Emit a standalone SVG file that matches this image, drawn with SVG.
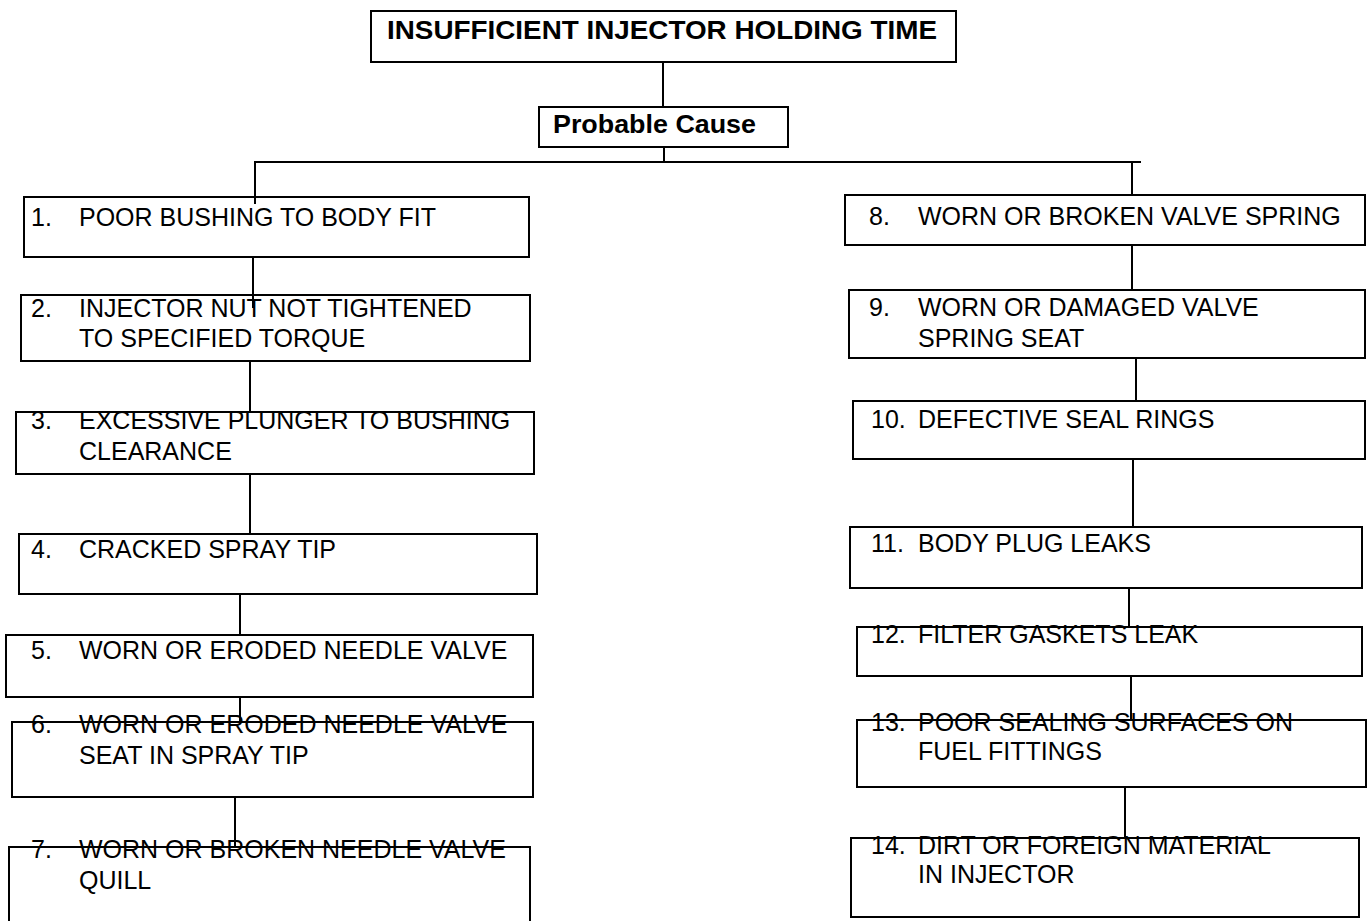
<svg xmlns="http://www.w3.org/2000/svg" width="1367" height="921" viewBox="0 0 1367 921">
  <style>
    .box { fill: none; stroke: #000; stroke-width: 2; }
    .wire { fill: none; stroke: #000; stroke-width: 2; }
    .t { font-family: "Liberation Sans", Arial, sans-serif; font-size: 25px; fill: #000; }
    .hb { font-family: "Liberation Sans", Arial, sans-serif; font-size: 26px; font-weight: bold; fill: #000; }
  </style>
  <rect x="0" y="0" width="1367" height="921" fill="#fff"/>

  <!-- header -->
  <g id="title">
    <rect class="box" x="371" y="11" width="585" height="51"/>
    <text class="hb" x="387" y="39" textLength="550" lengthAdjust="spacingAndGlyphs">INSUFFICIENT INJECTOR HOLDING TIME</text>
  </g>
  <g id="probable-cause">
    <rect class="box" x="539" y="107" width="249" height="40"/>
    <text class="hb" x="553" y="133" textLength="203" lengthAdjust="spacingAndGlyphs">Probable Cause</text>
  </g>

  <!-- left column -->
  <g id="cause-1">
    <rect class="box" x="24" y="197" width="505" height="60"/>
    <text class="t" x="31" y="226">1.</text>
    <text class="t" x="79" y="226">POOR BUSHING TO BODY FIT</text>
  </g>
  <g id="cause-2">
    <rect class="box" x="21" y="295" width="509" height="66"/>
    <text class="t" x="31" y="317">2.</text>
    <text class="t" x="79" y="317">INJECTOR NUT NOT TIGHTENED</text>
    <text class="t" x="79" y="347">TO SPECIFIED TORQUE</text>
  </g>
  <g id="cause-3">
    <rect class="box" x="16" y="412" width="518" height="62"/>
    <text class="t" x="31" y="429">3.</text>
    <text class="t" x="79" y="429">EXCESSIVE PLUNGER TO BUSHING</text>
    <text class="t" x="79" y="460">CLEARANCE</text>
  </g>
  <g id="cause-4">
    <rect class="box" x="19" y="534" width="518" height="60"/>
    <text class="t" x="31" y="558">4.</text>
    <text class="t" x="79" y="558">CRACKED SPRAY TIP</text>
  </g>
  <g id="cause-5">
    <rect class="box" x="6" y="635" width="527" height="62"/>
    <text class="t" x="31" y="659">5.</text>
    <text class="t" x="79" y="659">WORN OR ERODED NEEDLE VALVE</text>
  </g>
  <g id="cause-6">
    <rect class="box" x="12" y="722" width="521" height="75"/>
    <text class="t" x="31" y="733">6.</text>
    <text class="t" x="79" y="733">WORN OR ERODED NEEDLE VALVE</text>
    <text class="t" x="79" y="764">SEAT IN SPRAY TIP</text>
  </g>
  <g id="cause-7">
    <rect class="box" x="9" y="847" width="521" height="100"/>
    <text class="t" x="31" y="858">7.</text>
    <text class="t" x="79" y="858">WORN OR BROKEN NEEDLE VALVE</text>
    <text class="t" x="79" y="889">QUILL</text>
  </g>

  <!-- right column -->
  <g id="cause-8">
    <rect class="box" x="845" y="195" width="520" height="50"/>
    <text class="t" x="869" y="225">8.</text>
    <text class="t" x="918" y="225">WORN OR BROKEN VALVE SPRING</text>
  </g>
  <g id="cause-9">
    <rect class="box" x="849" y="290" width="516" height="68"/>
    <text class="t" x="869" y="316">9.</text>
    <text class="t" x="918" y="316">WORN OR DAMAGED VALVE</text>
    <text class="t" x="918" y="347">SPRING SEAT</text>
  </g>
  <g id="cause-10">
    <rect class="box" x="853" y="401" width="512" height="58"/>
    <text class="t" x="871" y="428">10.</text>
    <text class="t" x="918" y="428">DEFECTIVE SEAL RINGS</text>
  </g>
  <g id="cause-11">
    <rect class="box" x="850" y="527" width="512" height="61"/>
    <text class="t" x="871" y="552">11.</text>
    <text class="t" x="918" y="552">BODY PLUG LEAKS</text>
  </g>
  <g id="cause-12">
    <rect class="box" x="857" y="627" width="505" height="49"/>
    <text class="t" x="871" y="643">12.</text>
    <text class="t" x="918" y="643">FILTER GASKETS LEAK</text>
  </g>
  <g id="cause-13">
    <rect class="box" x="857" y="720" width="509" height="67"/>
    <text class="t" x="871" y="731">13.</text>
    <text class="t" x="918" y="731">POOR SEALING SURFACES ON</text>
    <text class="t" x="918" y="760">FUEL FITTINGS</text>
  </g>
  <g id="cause-14">
    <rect class="box" x="851" y="838" width="508" height="79"/>
    <text class="t" x="871" y="854">14.</text>
    <text class="t" x="918" y="854">DIRT OR FOREIGN MATERIAL</text>
    <text class="t" x="918" y="883">IN INJECTOR</text>
  </g>

  <!-- connectors -->
  <g id="connectors" class="wire">
    <line x1="663" y1="62" x2="663" y2="107"/>
    <line x1="664" y1="147" x2="664" y2="162"/>
    <line x1="254" y1="162" x2="1141" y2="162"/>
    <line x1="255" y1="162" x2="255" y2="204"/>
    <line x1="253" y1="257" x2="253" y2="308"/>
    <line x1="250" y1="361" x2="250" y2="412"/>
    <line x1="250" y1="474" x2="250" y2="534"/>
    <line x1="240" y1="594" x2="240" y2="635"/>
    <line x1="240" y1="697" x2="240" y2="722"/>
    <line x1="235" y1="797" x2="235" y2="847"/>
    <line x1="1132" y1="162" x2="1132" y2="195"/>
    <line x1="1132" y1="245" x2="1132" y2="290"/>
    <line x1="1136" y1="358" x2="1136" y2="401"/>
    <line x1="1133" y1="458" x2="1133" y2="527"/>
    <line x1="1129" y1="588" x2="1129" y2="628"/>
    <line x1="1131" y1="676" x2="1131" y2="720"/>
    <line x1="1125" y1="787" x2="1125" y2="838"/>
  </g>
</svg>
